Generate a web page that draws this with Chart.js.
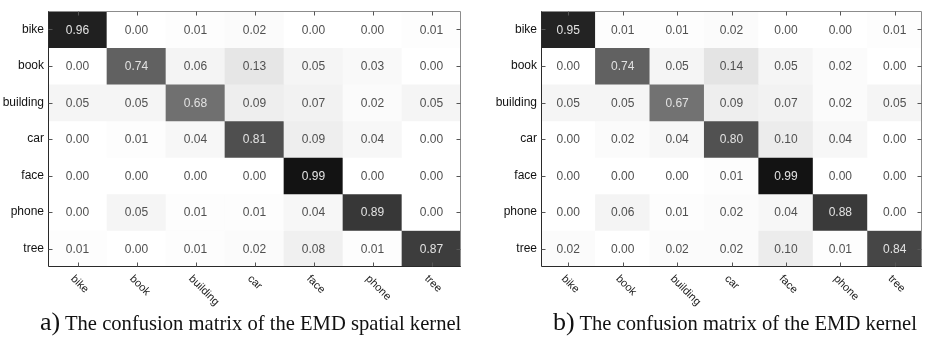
<!DOCTYPE html>
<html>
<head>
<meta charset="utf-8">
<script src="https://cdn.jsdelivr.net/npm/chart.js@4.4.6/dist/chart.umd.min.js"></script>
<style>
  html, body { margin: 0; background: #fff; width: 929px; height: 337px; overflow: hidden; }
  .panel { position: absolute; top: 0; height: 314px; }
  .cap {
    position: absolute; top: 309px; white-space: nowrap; color: #111; line-height: 26px;
    font-family: "Liberation Serif", "Times New Roman", serif; font-size: 20.6px;
  }
  .cap span { font-size: 26px; }
</style>
</head>
<body>
<div class="panel" style="left:0;width:470px"><canvas id="cmA"></canvas></div>
<div class="panel" style="left:470px;width:459px"><canvas id="cmB"></canvas></div>
<div class="cap" style="left:40px"><span>a)</span> The confusion matrix of the EMD spatial kernel</div>
<div class="cap" style="left:553px"><span>b)</span> The confusion matrix of the EMD kernel</div>

<script>
const CLASSES = ['bike', 'book', 'building', 'car', 'face', 'phone', 'tree'];

// rows = true class, cols = predicted class
const EMD_SPATIAL = [
  [0.96, 0.00, 0.01, 0.02, 0.00, 0.00, 0.01],
  [0.00, 0.74, 0.06, 0.13, 0.05, 0.03, 0.00],
  [0.05, 0.05, 0.68, 0.09, 0.07, 0.02, 0.05],
  [0.00, 0.01, 0.04, 0.81, 0.09, 0.04, 0.00],
  [0.00, 0.00, 0.00, 0.00, 0.99, 0.00, 0.00],
  [0.00, 0.05, 0.01, 0.01, 0.04, 0.89, 0.00],
  [0.01, 0.00, 0.01, 0.02, 0.08, 0.01, 0.87],
];

const EMD = [
  [0.95, 0.01, 0.01, 0.02, 0.00, 0.00, 0.01],
  [0.00, 0.74, 0.05, 0.14, 0.05, 0.02, 0.00],
  [0.05, 0.05, 0.67, 0.09, 0.07, 0.02, 0.05],
  [0.00, 0.02, 0.04, 0.80, 0.10, 0.04, 0.00],
  [0.00, 0.00, 0.00, 0.01, 0.99, 0.00, 0.00],
  [0.00, 0.06, 0.01, 0.02, 0.04, 0.88, 0.00],
  [0.02, 0.00, 0.02, 0.02, 0.10, 0.01, 0.84],
];

const SANS = '"Liberation Sans", Arial, sans-serif';

// inverted gray map, slightly bent like the printed figure
function shade(v) {
  const g = Math.round(12 + 243 * Math.pow(1 - v, 0.78));
  return `rgb(${g},${g},${g})`;
}

const matrixPlugin = {
  id: 'matrixDecor',
  afterDatasetsDraw(chart) {
    const { ctx } = chart;
    ctx.save();
    ctx.font = `12px ${SANS}`;
    ctx.textAlign = 'center';
    ctx.textBaseline = 'middle';
    chart.data.datasets.forEach((ds, r) => {
      chart.getDatasetMeta(r).data.forEach((bar, c) => {
        const v = ds.values[c];
        ctx.fillStyle = v > 0.5 ? '#e2e2e2' : '#505050';
        ctx.fillText(v.toFixed(2), bar.x, (bar.y + bar.base) / 2 + 1);
      });
    });
    ctx.restore();
  },
  afterDraw(chart) {
    const { ctx, chartArea: a, scales } = chart;
    const L = Math.round(a.left) + 0.5, R = Math.round(a.right) - 0.5;
    const T = Math.round(a.top) + 0.5, B = Math.round(a.bottom) - 0.5;
    ctx.save();
    ctx.lineWidth = 1;
    // box: light top/right, dark left/bottom
    ctx.strokeStyle = '#8c8c8c';
    ctx.beginPath();
    ctx.moveTo(L, T); ctx.lineTo(R, T); ctx.lineTo(R, B);
    ctx.stroke();
    ctx.strokeStyle = '#2a2a2a';
    ctx.beginPath();
    ctx.moveTo(L, T); ctx.lineTo(L, B); ctx.lineTo(R, B);
    ctx.stroke();
    // inward tick marks
    ctx.strokeStyle = '#555';
    ctx.beginPath();
    CLASSES.forEach((_, i) => {
      const x = Math.round(scales.x.getPixelForValue(i)) + 0.5;
      ctx.moveTo(x, T); ctx.lineTo(x, T + 4);
      ctx.moveTo(x, B); ctx.lineTo(x, B - 4);
      const y = Math.round(scales.y.getPixelForValue(i)) + 0.5;
      ctx.moveTo(L, y); ctx.lineTo(L + 4, y);
      ctx.moveTo(R, y); ctx.lineTo(R - 4, y);
    });
    ctx.stroke();
    // slanted column labels
    ctx.fillStyle = '#222';
    ctx.font = `11px ${SANS}`;
    ctx.textAlign = 'left';
    ctx.textBaseline = 'middle';
    CLASSES.forEach((name, i) => {
      const x = scales.x.getPixelForValue(i);
      ctx.save();
      ctx.translate(x - 5, a.bottom + 10);
      ctx.rotate(Math.PI / 4);
      ctx.fillText(name, 0, 0);
      ctx.restore();
    });
    ctx.restore();
  },
};

function drawMatrix(canvas, matrix, yWidth, padRight) {
  return new Chart(canvas, {
    type: 'bar',
    data: {
      labels: CLASSES,
      datasets: matrix.map((row, r) => ({
        data: row.map(() => [r - 0.5, r + 0.5]),
        values: row,
        backgroundColor: row.map(shade),
        borderWidth: 0,
        barPercentage: 1,
        categoryPercentage: 1,
        grouped: false,
      })),
    },
    options: {
      responsive: true,
      maintainAspectRatio: false,
      animation: false,
      events: [],
      layout: { padding: { top: 10, right: padRight, left: 0, bottom: 0 } },
      plugins: { legend: { display: false }, tooltip: { enabled: false } },
      scales: {
        x: {
          type: 'category',
          offset: true,
          grid: { display: false, drawTicks: false },
          border: { display: false },
          ticks: { display: false },
          afterFit: (s) => { s.height = 47; },
        },
        y: {
          type: 'linear',
          reverse: true,
          min: -0.5,
          max: 6.5,
          afterBuildTicks: (s) => { s.ticks = CLASSES.map((_, i) => ({ value: i })); },
          ticks: {
            callback: (v) => CLASSES[v],
            font: { family: SANS, size: 12 },
            color: '#111',
            padding: 4,
          },
          grid: { display: false, drawTicks: false },
          border: { display: false },
          afterFit: (s) => { s.width = yWidth; },
        },
      },
    },
    plugins: [matrixPlugin],
  });
}

drawMatrix(document.getElementById('cmA'), EMD_SPATIAL, 48, 9);
drawMatrix(document.getElementById('cmB'), EMD, 71, 7);
</script>
</body>
</html>
